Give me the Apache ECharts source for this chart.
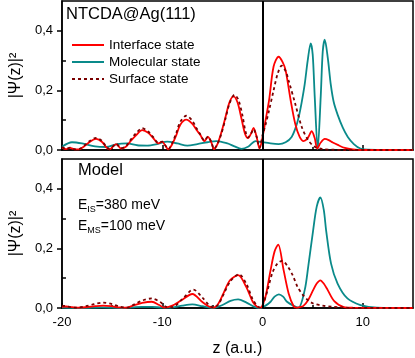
<!DOCTYPE html>
<html>
<head>
<meta charset="utf-8">
<script src="https://cdn.jsdelivr.net/npm/echarts@6/dist/echarts.min.js"></script>
<style>
  html, body { margin: 0; padding: 0; background: #fff; }
  #chart { width: 415px; height: 358px; }
</style>
</head>
<body>
<div id="chart"></div>
<script>
// |Psi(z)|^2 curves, [z, value]
const upperInterface = [
  [-20, 0.008], [-19.6, 0.003], [-19.2, 0.007], [-18.7, 0.002], [-18.3, 0.002], [-17.8, 0.012],
  [-17.2, 0.028], [-16.6, 0.037], [-16.0, 0.027], [-15.6, 0.01], [-15.25, 0.002], [-14.9, 0.012],
  [-14.6, 0.02], [-14.1, 0.005], [-13.6, 0.012], [-13.2, 0.028], [-12.6, 0.05], [-12.0, 0.067],
  [-11.4, 0.058], [-10.9, 0.04], [-10.4, 0.022], [-10.0, 0.028], [-9.7, 0.015], [-9.4, 0.002],
  [-9.0, 0.02], [-8.6, 0.05], [-8.2, 0.085], [-7.6, 0.102], [-7.0, 0.088], [-6.6, 0.068],
  [-6.2, 0.05], [-5.8, 0.03], [-5.45, 0.044], [-5.1, 0.025], [-4.85, 0.003], [-4.5, 0.02],
  [-4.1, 0.06], [-3.7, 0.11], [-3.3, 0.16], [-2.9, 0.18], [-2.5, 0.16], [-2.1, 0.105],
  [-1.75, 0.055], [-1.45, 0.04], [-1.15, 0.055], [-0.9, 0.074], [-0.6, 0.045], [-0.3, 0.005],
  [0, 0.043], [0.3, 0.1], [0.65, 0.167], [1.1, 0.28], [1.6, 0.313], [2.0, 0.295],
  [2.3, 0.267], [2.8, 0.167], [3.25, 0.089], [3.7, 0.044], [4.1, 0.03], [4.5, 0.04],
  [4.9, 0.063], [5.2, 0.04], [5.45, 0.005], [5.8, 0.025], [6.2, 0.037], [6.6, 0.033],
  [7.0, 0.025], [7.5, 0.017], [8.2, 0.007], [9.0, 0.002], [10, 0], [15, 0]
];
const upperMolecular = [
  [-20, 0.011], [-19, 0.026], [-18, 0.022], [-16.7, 0.012], [-15.6, 0.01], [-14.5, 0.02],
  [-13.5, 0.022], [-12.5, 0.016], [-11.5, 0.015], [-10.5, 0.02], [-9.5, 0.028], [-8.5, 0.022],
  [-7.5, 0.015], [-6.5, 0.02], [-5.5, 0.026], [-4.6, 0.03], [-3.5, 0.022], [-2.8, 0.012],
  [-2.1, 0.004], [-1.4, 0.012], [-0.7, 0.03], [0, 0.026], [0.8, 0.022], [1.6, 0.02],
  [2.3, 0.026], [2.9, 0.044], [3.3, 0.075], [3.6, 0.11], [3.9, 0.16], [4.2, 0.22],
  [4.5, 0.3], [4.8, 0.358], [5.0, 0.32], [5.2, 0.18], [5.5, 0.003], [5.8, 0.18],
  [6.0, 0.33], [6.2, 0.37], [6.5, 0.31], [6.8, 0.22], [7.1, 0.16], [7.5, 0.117],
  [8.0, 0.075], [8.5, 0.044], [9.1, 0.02], [9.75, 0.005], [10.5, 0.001], [15, 0]
];
const upperSurface = [
  [-20, 0.01], [-19.6, 0.004], [-19.2, 0.008], [-18.7, 0.002], [-18.3, 0.003], [-17.8, 0.014],
  [-17.2, 0.031], [-16.6, 0.041], [-16.0, 0.03], [-15.6, 0.012], [-15.25, 0.003], [-14.9, 0.013],
  [-14.6, 0.021], [-14.1, 0.006], [-13.6, 0.014], [-13.2, 0.032], [-12.6, 0.057], [-12.0, 0.073],
  [-11.4, 0.062], [-10.9, 0.043], [-10.4, 0.024], [-10.0, 0.028], [-9.7, 0.016], [-9.4, 0.003],
  [-9.0, 0.024], [-8.6, 0.058], [-8.2, 0.095], [-7.6, 0.115], [-7.0, 0.098], [-6.6, 0.074],
  [-6.2, 0.052], [-5.8, 0.032], [-5.45, 0.045], [-5.1, 0.026], [-4.85, 0.004], [-4.5, 0.02],
  [-4.1, 0.055], [-3.7, 0.105], [-3.3, 0.155], [-2.8, 0.185], [-2.4, 0.168], [-2.0, 0.115],
  [-1.7, 0.062], [-1.45, 0.042], [-1.15, 0.055], [-0.9, 0.07], [-0.6, 0.045], [-0.3, 0.008],
  [0, 0.05], [0.3, 0.085], [0.65, 0.133], [1.1, 0.2], [1.5, 0.255], [1.9, 0.283],
  [2.3, 0.265], [2.6, 0.233], [3.25, 0.156], [3.9, 0.078], [4.55, 0.033], [5.2, 0.011],
  [6, 0.003], [7, 0.001], [8, 0], [15, 0]
];

const lowerInterface = [
  [-20, 0.004], [-19.6, 0.005], [-19, 0.003], [-18.3, 0.001], [-17.5, 0.003], [-16.7, 0.006],
  [-15.9, 0.008], [-15.1, 0.006], [-14.3, 0.002], [-13.6, 0.001], [-12.9, 0.008], [-12.0, 0.017],
  [-11.05, 0.021], [-10.3, 0.01], [-9.8, 0.001], [-9.0, 0.008], [-8.1, 0.026], [-7.0, 0.047],
  [-6.0, 0.02], [-5.4, 0.006], [-4.9, 0.001], [-4.4, 0.015], [-3.9, 0.049], [-3.25, 0.093],
  [-2.44, 0.11], [-1.63, 0.071], [-0.98, 0.021], [-0.5, 0.003], [-0.16, 0.001], [0, 0.01],
  [0.33, 0.043], [0.8, 0.127], [1.2, 0.19], [1.56, 0.213], [2.1, 0.127], [2.6, 0.049],
  [3.1, 0.006], [3.4, 0.001], [3.7, 0.003], [4.07, 0.007], [4.55, 0.027], [5.04, 0.06],
  [5.4, 0.082], [5.76, 0.093], [6.1, 0.082], [6.5, 0.06], [7.15, 0.023], [8.1, 0.003],
  [9, 0.001], [15, 0]
];
const lowerMolecular = [
  [-20, 0.001], [-18, 0], [-16, 0.002], [-14, 0], [-13, 0.002], [-12, 0.004],
  [-11, 0.004], [-10, 0.001], [-9, 0.002], [-8, 0.008], [-7, 0.012], [-6, 0.006],
  [-5, 0], [-4, 0.01], [-3.2, 0.024], [-2.44, 0.029], [-1.6, 0.018], [-0.8, 0.004],
  [-0.2, 0], [0.3, 0.008], [0.8, 0.021], [1.2, 0.038], [1.63, 0.046], [2.05, 0.038],
  [2.44, 0.021], [3.1, 0.007], [3.58, 0.001], [4.2, 0.06], [4.55, 0.138], [5.04, 0.26],
  [5.4, 0.34], [5.76, 0.371], [6.1, 0.33], [6.34, 0.26], [6.83, 0.149], [7.48, 0.082],
  [8.46, 0.032], [9.76, 0.01], [11.4, 0.001], [15, 0]
];
const lowerSurface = [
  [-20, 0.008], [-19.7, 0.007], [-19.2, 0.003], [-18.5, 0.001], [-17.6, 0.006], [-16.8, 0.013],
  [-15.9, 0.018], [-15, 0.013], [-14.2, 0.004], [-13.5, 0.001], [-12.8, 0.012], [-11.9, 0.026],
  [-11.05, 0.032], [-10.2, 0.02], [-9.6, 0.004], [-9, 0.003], [-8, 0.03], [-6.9, 0.062],
  [-6, 0.035], [-5.4, 0.012], [-4.9, 0.002], [-4.4, 0.012], [-3.9, 0.045], [-3.2, 0.09],
  [-2.34, 0.113], [-1.6, 0.08], [-1, 0.03], [-0.5, 0.006], [-0.16, 0.001], [0, 0.006],
  [0.5, 0.06], [1, 0.12], [1.5, 0.15], [1.95, 0.158], [2.5, 0.14], [3, 0.11],
  [3.5, 0.07], [4, 0.045], [4.5, 0.027], [5, 0.016], [6, 0.008], [7, 0.004],
  [8, 0.002], [9, 0], [15, 0]
];

const seriesNames = ['Interface state', 'Molecular state', 'Surface state'];
const xMajorTicks = [-20, -10, 0, 10];
const xMinorTicks = [-15, -5, 5];
const yMajorTicks = [0, 0.2, 0.4];
const yMinorTicks = [0.1, 0.3];

const FONT = "'Liberation Sans', Arial, sans-serif";
const RED = '#ff0000';
const TEAL = '#0a8a8a';
const DARKRED = '#7a0000';

const chart = echarts.init(document.getElementById('chart'));

const makeX = (gridIndex, showLabel) => [
  {
    type: 'value', gridIndex, min: -20, max: 15, position: 'bottom',
    axisLine: { onZero: false, lineStyle: { color: '#000', width: 1.5 } },
    axisTick: { inside: true, length: 5, customValues: xMajorTicks, lineStyle: { color: '#000', width: 1.5 } },
    axisLabel: { show: showLabel, customValues: xMajorTicks, color: '#000', fontSize: 13, fontFamily: FONT, margin: 8 },
    splitLine: { show: false },
    name: showLabel ? 'z (a.u.)' : '', nameLocation: 'middle', nameGap: 33,
    nameTextStyle: { color: '#000', fontSize: 16, fontFamily: FONT }
  },
  {
    type: 'value', gridIndex, min: -20, max: 15, position: 'bottom', offset: 0,
    axisLine: { show: false, onZero: false },
    axisTick: { inside: true, length: 3, customValues: xMinorTicks, lineStyle: { color: '#000', width: 1.5 } },
    axisLabel: { show: false },
    splitLine: { show: false }
  }
];

const makeY = (gridIndex) => [
  {
    type: 'value', gridIndex, min: 0, max: 0.5, position: 'left',
    axisLine: { onZero: false, lineStyle: { color: '#000', width: 1.5 } },
    axisTick: { inside: false, length: 5, customValues: yMajorTicks, lineStyle: { color: '#000', width: 1.5 } },
    axisLabel: {
      customValues: yMajorTicks, color: '#000', fontSize: 13, fontFamily: FONT, margin: 9,
      formatter: (v) => v.toFixed(1).replace('.', ',')
    },
    splitLine: { show: false },
    name: '|Ψ(z)|²', nameLocation: 'middle', nameRotate: 90, nameGap: 33,
    nameTextStyle: { color: '#000', fontSize: 16, fontFamily: FONT }
  },
  {
    type: 'value', gridIndex, min: 0, max: 0.5, position: 'left', offset: 0,
    axisLine: { show: false, onZero: false },
    axisTick: { inside: true, length: 4, customValues: yMinorTicks, lineStyle: { color: '#000', width: 1.5 } },
    axisLabel: { show: false },
    splitLine: { show: false }
  }
];

const zeroLine = {
  silent: true, symbol: 'none', animation: false,
  label: { show: false },
  lineStyle: { color: '#000', width: 2, type: 'solid' },
  data: [{ xAxis: 0 }]
};

const makeSeries = (axisIndex, interfaceData, molecularData, surfaceData) => [
  {
    name: seriesNames[1], type: 'line', xAxisIndex: axisIndex, yAxisIndex: axisIndex,
    data: molecularData, smooth: 0.3, symbol: 'none',
    lineStyle: { color: TEAL, width: 1.8 }, itemStyle: { color: TEAL },
    markLine: zeroLine
  },
  {
    name: seriesNames[0], type: 'line', xAxisIndex: axisIndex, yAxisIndex: axisIndex,
    data: interfaceData, smooth: 0.3, symbol: 'none',
    lineStyle: { color: RED, width: 1.8 }, itemStyle: { color: RED }
  },
  {
    name: seriesNames[2], type: 'line', xAxisIndex: axisIndex, yAxisIndex: axisIndex,
    data: surfaceData, smooth: 0.3, symbol: 'none',
    lineStyle: { color: DARKRED, width: 1.8, type: [3, 3] }, itemStyle: { color: DARKRED }
  }
];

const option = {
  backgroundColor: '#fff',
  animation: false,
  grid: [
    { left: 55, right: 2, top: 1, height: 149, show: true, borderColor: '#000', borderWidth: 1.5 },
    { left: 55, right: 2, top: 159, height: 149, show: true, borderColor: '#000', borderWidth: 1.5 }
  ],
  xAxis: [...makeX(0, false), ...makeX(1, true)],
  yAxis: [...makeY(0), ...makeY(1)],
  legend: {
    data: seriesNames,
    orient: 'vertical', left: 66, top: 33,
    itemWidth: 32, itemHeight: 14, itemGap: 3,
    itemStyle: { color: 'transparent', borderColor: 'transparent', borderWidth: 0, opacity: 0 },
    textStyle: { color: '#000', fontSize: 13.5, fontFamily: FONT },
    selectedMode: false
  },
  graphic: [
    { type: 'text', left: 66, top: 6, style: { text: 'NTCDA@Ag(111)', font: '16.5px ' + FONT, fill: '#000' } },
    { type: 'text', left: 78, top: 162, style: { text: 'Model', font: '16.5px ' + FONT, fill: '#000' } },
    {
      type: 'text', left: 78, top: 196,
      style: {
        text: 'E{sub|IS}=380 meV', font: '14px ' + FONT, fill: '#000', lineHeight: 18,
        rich: { sub: { fontSize: 9, fontFamily: FONT, verticalAlign: 'bottom', lineHeight: 9, fill: '#000' } }
      }
    },
    {
      type: 'text', left: 78, top: 217,
      style: {
        text: 'E{sub|MS}=100 meV', font: '14px ' + FONT, fill: '#000', lineHeight: 18,
        rich: { sub: { fontSize: 9, fontFamily: FONT, verticalAlign: 'bottom', lineHeight: 9, fill: '#000' } }
      }
    }
  ],
  series: [
    ...makeSeries(0, upperInterface, upperMolecular, upperSurface),
    ...makeSeries(2, lowerInterface, lowerMolecular, lowerSurface)
  ]
};

chart.setOption(option);
</script>
</body>
</html>
